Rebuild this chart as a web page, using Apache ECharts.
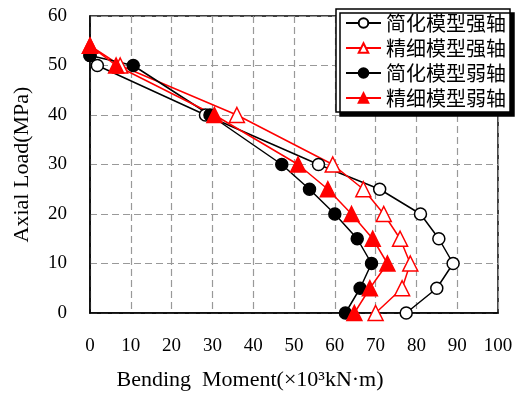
<!DOCTYPE html>
<html>
<head>
<meta charset="utf-8">
<script src="https://cdn.jsdelivr.net/npm/echarts@6/dist/echarts.min.js"></script>
<style>
    html, body { margin: 0; padding: 0; background: #fff; }
    #chart { width: 517px; height: 397px; }
</style>
</head>
<body>
<div id="chart"></div>
<script>
// 轴力 (MPa)
var loadsSimple = [0, 5, 10, 15, 20, 25, 30, 40, 50, 52];
var loadsFine = [0, 5, 10, 15, 20, 25, 30, 40, 50, 54];
// 弯矩 (x10^3 kN·m)
var simpleStrong = [77.5, 85, 89, 85.5, 81, 71, 56, 28.3, 1.8, 0];
var fineStrong = [70, 76.5, 78.5, 76, 72, 67, 59.5, 36, 7.4, 0];
var simpleWeak = [62.6, 66.2, 69, 65.5, 60, 53.8, 47, 29.4, 10.6, 0];
var fineWeak = [64.8, 68.6, 72.9, 69.3, 64.1, 58.3, 51, 30.5, 6.4, 0];
var xTicks = [0, 10, 20, 30, 40, 50, 60, 70, 80, 90, 100];
var yTicks = [0, 10, 20, 30, 40, 50, 60];
var names = ['简化模型强轴', '精细模型强轴', '简化模型弱轴', '精细模型弱轴'];

function pairs(xs, ys) {
    return xs.map(function (x, i) { return [x, ys[i]]; });
}

var serif = 'Liberation Serif';

function line(name, xs, ys, color, symbol, size, hollow) {
    return {
        name: name,
        type: 'line',
        data: pairs(xs, ys),
        symbol: symbol,
        symbolSize: size,
        showAllSymbol: true,
        lineStyle: { color: color, width: 1.5 },
        itemStyle: {
            color: hollow ? '#fff' : color,
            borderColor: color,
            borderWidth: 1.5
        },
        emphasis: { disabled: true },
        animation: false
    };
}

var chart = echarts.init(document.getElementById('chart'));
chart.setOption({
    animation: false,
    grid: {
        left: 90, right: 19, top: 16, bottom: 84,
        show: true, borderColor: '#000', borderWidth: 1.5
    },
    legend: {
        orient: 'vertical',
        left: 336, top: 9,
        padding: [4, 4, 4, 9],
        itemGap: 5,
        itemWidth: 35,
        itemHeight: 12,
        itemTextGap: 6,
        backgroundColor: '#fff',
        borderColor: '#000',
        borderWidth: 1.5,
        borderRadius: 0,
        shadowColor: '#000',
        shadowBlur: 0,
        shadowOffsetX: 4,
        shadowOffsetY: 4,
        textStyle: { fontFamily: 'Noto Sans CJK SC', fontSize: 20, color: '#000', lineHeight: 20, padding: 0 },
        data: names
    },
    xAxis: {
        type: 'value',
        min: xTicks[0], max: xTicks[xTicks.length - 1], interval: 10,
        name: 'Bending  Moment(×10³kN·m)',
        nameLocation: 'middle',
        nameGap: 56,
        nameTextStyle: { fontFamily: serif, fontSize: 22, color: '#000', padding: [0, 88, 0, 0] },
        axisLine: { lineStyle: { color: '#000', width: 1.5 } },
        axisTick: { show: false },
        axisLabel: { margin: 24, fontFamily: serif, fontSize: 19, color: '#000' },
        splitLine: { show: true, lineStyle: { color: '#999', width: 1.2, type: [7, 4] } }
    },
    yAxis: {
        type: 'value',
        min: yTicks[0], max: yTicks[yTicks.length - 1], interval: 10,
        name: 'Axial Load(MPa)',
        nameLocation: 'middle',
        nameGap: 57,
        nameTextStyle: { fontFamily: serif, fontSize: 22, color: '#000' },
        axisLine: { lineStyle: { color: '#000', width: 1.5 } },
        axisTick: { show: false },
        axisLabel: { margin: 23, fontFamily: serif, fontSize: 19, color: '#000' },
        splitLine: { show: true, lineStyle: { color: '#999', width: 1.2, type: [7, 4] } }
    },
    series: [
        line(names[0], simpleStrong, loadsSimple, '#000', 'circle', 12, true),
        line(names[1], fineStrong, loadsFine, '#ff0000', 'triangle', 15, true),
        line(names[2], simpleWeak, loadsSimple, '#000', 'circle', 12, false),
        line(names[3], fineWeak, loadsFine, '#ff0000', 'triangle', 15, false)
    ]
});
</script>
</body>
</html>
